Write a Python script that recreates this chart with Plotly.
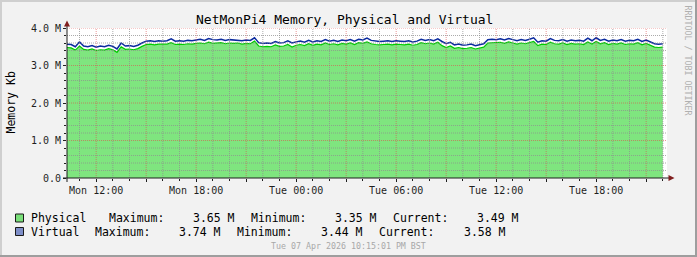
import pandas as pd
import plotly.graph_objects as go

# ---- data (values in millions of Kb), 15-minute samples from Mon 10:15 ----
start_time = "2026-04-06 10:15"
sample_count = 144
physical_m = [
    3.48, 3.47, 3.41, 3.52, 3.43, 3.41, 3.44, 3.40, 3.42, 3.41, 3.45, 3.42,
    3.35, 3.50, 3.43, 3.44, 3.42, 3.45, 3.51, 3.56, 3.57, 3.55, 3.57, 3.56,
    3.57, 3.61, 3.56, 3.57, 3.56, 3.58, 3.57, 3.59, 3.60, 3.58, 3.62, 3.59,
    3.59, 3.61, 3.58, 3.60, 3.59, 3.60, 3.57, 3.59, 3.58, 3.65, 3.52, 3.50,
    3.51, 3.50, 3.55, 3.51, 3.52, 3.56, 3.49, 3.54, 3.56, 3.53, 3.58, 3.54,
    3.57, 3.55, 3.60, 3.56, 3.58, 3.55, 3.59, 3.57, 3.60, 3.56, 3.61, 3.59,
    3.63, 3.58, 3.56, 3.55, 3.56, 3.57, 3.55, 3.57, 3.56, 3.55, 3.57, 3.54,
    3.56, 3.61, 3.58, 3.60, 3.57, 3.62, 3.53, 3.48, 3.52, 3.46, 3.48, 3.45,
    3.46, 3.48, 3.44, 3.47, 3.49, 3.60, 3.61, 3.60, 3.62, 3.59, 3.63, 3.60,
    3.57, 3.60, 3.58, 3.61, 3.64, 3.53, 3.57, 3.56, 3.62, 3.58, 3.57, 3.60,
    3.56, 3.59, 3.57, 3.58, 3.56, 3.63, 3.57, 3.64, 3.58, 3.61, 3.56, 3.59,
    3.57, 3.60, 3.56, 3.58, 3.57, 3.61, 3.55, 3.59, 3.54, 3.49, 3.48, 3.49,
]
virtual_m = [
    3.57, 3.56, 3.50, 3.63, 3.52, 3.50, 3.53, 3.49, 3.52, 3.50, 3.54, 3.51,
    3.44, 3.60, 3.52, 3.53, 3.51, 3.54, 3.60, 3.65, 3.66, 3.64, 3.66, 3.65,
    3.66, 3.71, 3.65, 3.66, 3.65, 3.67, 3.66, 3.68, 3.70, 3.67, 3.72, 3.69,
    3.68, 3.70, 3.67, 3.69, 3.68, 3.69, 3.66, 3.68, 3.67, 3.74, 3.61, 3.59,
    3.60, 3.59, 3.64, 3.60, 3.61, 3.66, 3.60, 3.63, 3.65, 3.62, 3.67, 3.63,
    3.66, 3.64, 3.69, 3.65, 3.67, 3.64, 3.68, 3.66, 3.69, 3.65, 3.70, 3.68,
    3.73, 3.67, 3.65, 3.64, 3.65, 3.66, 3.64, 3.66, 3.65, 3.64, 3.66, 3.63,
    3.65, 3.70, 3.67, 3.69, 3.66, 3.71, 3.64, 3.58, 3.62, 3.55, 3.57, 3.54,
    3.55, 3.57, 3.53, 3.56, 3.58, 3.69, 3.70, 3.69, 3.71, 3.68, 3.72, 3.69,
    3.66, 3.69, 3.67, 3.70, 3.74, 3.62, 3.66, 3.65, 3.72, 3.67, 3.66, 3.69,
    3.65, 3.68, 3.66, 3.67, 3.65, 3.73, 3.66, 3.74, 3.67, 3.70, 3.65, 3.68,
    3.66, 3.69, 3.65, 3.67, 3.66, 3.70, 3.64, 3.68, 3.63, 3.58, 3.57, 3.58,
]
x_range = ["2026-04-06 10:15", "2026-04-07 22:15"]
x_label_ticks = ["2026-04-06 12:00", "2026-04-06 18:00", "2026-04-07 00:00",
                 "2026-04-07 06:00", "2026-04-07 12:00", "2026-04-07 18:00"]
x_label_text = ["Mon 12:00", "Mon 18:00", "Tue 00:00", "Tue 06:00", "Tue 12:00", "Tue 18:00"]
y_tick_vals = [0, 1, 2, 3, 4]
y_tick_text = ["0.0", "1.0 M", "2.0 M", "3.0 M", "4.0 M"]
title_text = "NetMonPi4 Memory, Physical and Virtual"
y_title = "Memory Kb"
footer_text = "Tue 07 Apr 2026 10:15:01 PM BST"
watermark = "RRDTOOL / TOBI OETIKER"
series_names = ["Physical", "Virtual"]

times = pd.date_range(start_time, periods=sample_count, freq="15min")

# ---- style ----
FONT = "DejaVu Sans Mono"
BACK = "#F2F2F2"
GRID = "rgba(143,143,143,0.75)"
MGRID = "rgba(222,79,79,0.6)"
AXIS = "#1F1F1F"
ARROW = "#801F1F"
GREEN = "#00CC00"
BLUE = "#0A2A9E"
W, H = 697, 257
L, R, T, B = 67, 30, 28, 79
PW, PH = W - L - R, H - T - B


def px(xp):
    return (xp - L) / PW


def py(yp):
    return (H - B - yp) / PH


fig = go.Figure()
fig.add_trace(go.Scatter(
    x=times, y=physical_m, mode="lines", fill="tozeroy",
    fillcolor="rgba(0,204,0,0.5)", line=dict(color=GREEN, width=1.2),
    name=series_names[0], hoverinfo="skip"))
fig.add_trace(go.Scatter(
    x=times, y=virtual_m, mode="lines", line=dict(color=BLUE, width=1.5),
    name=series_names[1], hoverinfo="skip"))

shapes = []
# grid on top of data (rrdtool style)
t0 = pd.Timestamp(x_range[0]).ceil("h")
t_end = pd.Timestamp(x_range[1])
t = t0
while t < t_end:
    col = MGRID if t.hour % 3 == 0 else GRID
    shapes.append(dict(type="line", xref="x", yref="paper", x0=t, x1=t, y0=0, y1=1,
                       line=dict(color=col, width=1, dash="1px,1px"), layer="above"))
    t += pd.Timedelta(hours=1)
for k in range(1, 21):
    v = k * 0.2
    col = MGRID if k % 5 == 0 else GRID
    shapes.append(dict(type="line", xref="paper", yref="y", x0=0, x1=1, y0=v, y1=v,
                       line=dict(color=col, width=1, dash="1px,1px"), layer="above"))

# axes lines and arrows
shapes.append(dict(type="line", xref="paper", yref="paper", x0=px(63), x1=px(669),
                   y0=py(178), y1=py(178), line=dict(color=AXIS, width=1), layer="above"))
shapes.append(dict(type="line", xref="paper", yref="paper", x0=px(67), x1=px(67),
                   y0=py(182), y1=py(25), line=dict(color=AXIS, width=1), layer="above"))
shapes.append(dict(type="path", xref="paper", yref="paper", layer="above",
                   path=f"M{px(674.5)},{py(178)} L{px(668.5)},{py(175)} L{px(668.5)},{py(181)} Z",
                   fillcolor=ARROW, line=dict(width=0)))
shapes.append(dict(type="path", xref="paper", yref="paper", layer="above",
                   path=f"M{px(67)},{py(20.5)} L{px(64)},{py(26.5)} L{px(70)},{py(26.5)} Z",
                   fillcolor=ARROW, line=dict(width=0)))

# legend boxes
shapes.append(dict(type="rect", xref="paper", yref="paper", x0=px(15.5), x1=px(23.5),
                   y0=py(214), y1=py(222), fillcolor="rgba(0,204,0,0.5)",
                   line=dict(color="#1A1A1A", width=1)))
shapes.append(dict(type="rect", xref="paper", yref="paper", x0=px(15.5), x1=px(23.5),
                   y0=py(227.5), y1=py(235.5), fillcolor="rgba(10,42,158,0.5)",
                   line=dict(color="#1A1A1A", width=1)))

# frame
shapes.append(dict(type="rect", xref="paper", yref="paper", x0=px(0), x1=px(W),
                   y0=py(0), y1=py(2), fillcolor="#CFCFCF", line=dict(width=0)))
shapes.append(dict(type="rect", xref="paper", yref="paper", x0=px(0), x1=px(2),
                   y0=py(0), y1=py(H), fillcolor="#CFCFCF", line=dict(width=0)))
shapes.append(dict(type="rect", xref="paper", yref="paper", x0=px(0), x1=px(W),
                   y0=py(H - 2), y1=py(H), fillcolor="#9E9E9E", line=dict(width=0)))
shapes.append(dict(type="rect", xref="paper", yref="paper", x0=px(W - 2), x1=px(W),
                   y0=py(0), y1=py(H), fillcolor="#9E9E9E", line=dict(width=0)))

annotations = []


def txt(text, x, y, size, color="#000000", xanchor="left", angle=0):
    annotations.append(dict(text=text, x=px(x), y=py(y), xref="paper", yref="paper",
                            xanchor=xanchor, yanchor="middle", showarrow=False,
                            textangle=angle, borderpad=0, borderwidth=0,
                            font=dict(family=FONT, size=size, color=color)))


txt(title_text, 344, 19.5, 13, xanchor="center")
txt(y_title, 10.5, 103, 11.5, xanchor="center", angle=-90)
txt(watermark, 687.5, 60, 8.3, color="#B0B0B0", xanchor="center", angle=90)
txt(footer_text, 348, 246.5, 8.3, color="#A8A8A8", xanchor="center")

rows = [
    (series_names[0], physical_m, 218.3, [30.5, 109, 193, 251, 335, 393, 477]),
    (series_names[1], virtual_m, 231.7, [30.5, 94.7, 179, 237, 321, 379, 463.6]),
]
for name, vals, yrow, xs in rows:
    parts = [name, "Maximum:", f"{max(vals):.2f} M", "Minimum:", f"{min(vals):.2f} M",
             "Current:", f"{vals[-1]:.2f} M"]
    for p, xx in zip(parts, xs):
        txt(p, xx, yrow, 11.5)

fig.update_layout(
    width=W, height=H, margin=dict(l=L, r=R, t=T, b=B, autoexpand=False),
    paper_bgcolor=BACK, plot_bgcolor="#FFFFFF", showlegend=False,
    shapes=shapes, annotations=annotations,
    font=dict(family=FONT, size=10, color=AXIS),
    xaxis=dict(type="date", range=x_range, showgrid=False, showline=False, zeroline=False,
               tickmode="array",
               tickvals=list(pd.date_range("2026-04-06 12:00", "2026-04-07 21:00", freq="3h")),
               ticktext=[x_label_text[x_label_ticks.index(str(tv)[:16])] if str(tv)[:16] in x_label_ticks else ""
                         for tv in pd.date_range("2026-04-06 12:00", "2026-04-07 21:00", freq="3h")],
               ticks="outside", ticklen=3, tickcolor=AXIS, tickfont=dict(family=FONT, size=10, color=AXIS),
               minor=dict(dtick=3600000, tick0="2026-04-06 11:00", ticks="outside", ticklen=2,
                          tickcolor=AXIS, showgrid=False)),
    yaxis=dict(range=[0, 4], showgrid=False, showline=False, zeroline=False,
               tickmode="array", tickvals=y_tick_vals, ticktext=y_tick_text,
               ticks="outside", ticklen=3, tickcolor=AXIS, tickfont=dict(family=FONT, size=10, color=AXIS),
               minor=dict(dtick=0.2, ticks="outside", ticklen=2, tickcolor=AXIS, showgrid=False)),
)

fig.write_html("out.html")
